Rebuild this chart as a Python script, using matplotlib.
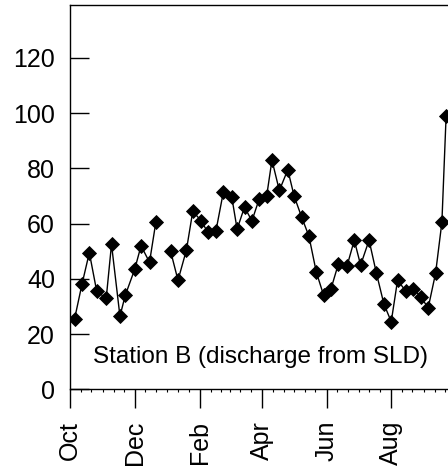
import matplotlib
matplotlib.use("Agg")
import matplotlib.pyplot as plt
import matplotlib.dates as mdates
import numpy as np

plt.rcParams.update({
    'font.family': ['Liberation Sans', 'DejaVu Sans'],
    'font.size': 17.5,
})

start = np.datetime64('2000-10-01')

# days after 1 Oct, NaN marks the gap in the record
days = [4, 11, 18, 25, 34, 39, 47, 52, 61, 67, 75, 81, 88,
        95, 102, 110, 116, 124, 130, 138, 145, 153, 158, 165, 172,
        179, 186, 191, 198, 206, 212, 219, 226, 233, 240, 247, 254, 262,
        269, 275, 283, 290, 297, 304, 310, 318, 325, 332, 339, 346, 352, 356]
flow = [25.5, 38, 49.5, 35.5, 33, 52.5, 26.5, 34, 43.5, 52, 46, 60.5, np.nan,
        50, 39.5, 50.5, 64.5, 61, 57, 57.5, 71.5, 69.5, 58, 66, 61,
        69, 70, 83, 72, 79.5, 70, 62.5, 55.5, 42.5, 34, 36.5, 45.5, 44.5,
        54, 45, 54, 42, 31, 24.5, 39.5, 35.5, 36.5, 33.5, 29.5, 42, 60.5, 99]

month_ticks = ['2000-10-01', '2000-12-01', '2001-02-01', '2001-04-01',
               '2001-06-01', '2001-08-01']

dates = start + np.array(days).astype('timedelta64[D]')

fig = plt.figure(figsize=(4.48, 4.72), dpi=100)
ax = fig.add_axes([0.157, 0.175, 0.86, 0.8136])

ax.plot(dates, flow, color='black', linewidth=1.0, marker='D',
        markersize=7.6, markeredgewidth=0.6, markerfacecolor='black',
        markeredgecolor='black')

ax.set_xlim(start, start + np.timedelta64(365, 'D'))
ax.set_ylim(0, 139)
ax.set_yticks([0, 20, 40, 60, 80, 100, 120])

ax.set_xticks(np.array(month_ticks, dtype='datetime64[D]'))
ax.xaxis.set_major_formatter(mdates.DateFormatter('%b'))
ax.xaxis.set_minor_locator(mdates.DayLocator(bymonthday=[1, 11, 21]))

ax.tick_params(axis='x', which='major', direction='out', length=13.7,
               width=1.0, pad=9, labelrotation=90, labelsize=18)
ax.tick_params(axis='x', which='minor', direction='out', length=2, width=0.8)
ax.tick_params(axis='y', which='major', direction='in', length=13.7,
               width=1.0, pad=11, labelsize=18)

for s in ax.spines.values():
    s.set_linewidth(1.0)
ax.spines['right'].set_visible(False)

ax.text(0.494, 0.084, 'Station B (discharge from SLD)', transform=ax.transAxes,
        ha='center', va='center', fontsize=17.5)

fig.savefig('out.png', dpi=100)
